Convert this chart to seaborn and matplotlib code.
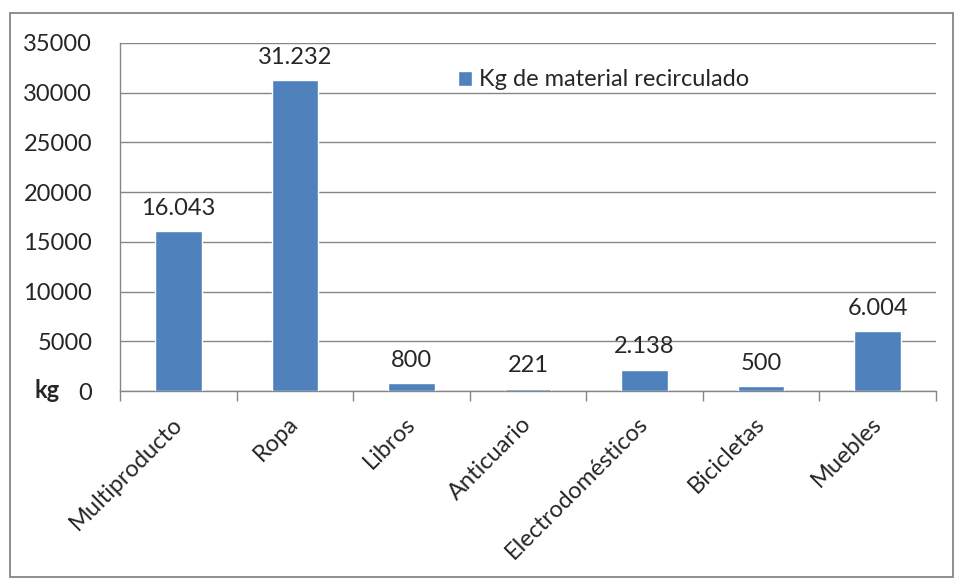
import matplotlib
matplotlib.use("Agg")
import matplotlib.pyplot as plt
import matplotlib.transforms as mtransforms
import seaborn as sns
import pandas as pd
from matplotlib.patches import Rectangle

# datos
categorias = ["Multiproducto", "Ropa", "Libros", "Anticuario",
              "Electrodomésticos", "Bicicletas", "Muebles"]
kg = [16043, 31232, 800, 221, 2138, 500, 6004]
etiquetas = ["16.043", "31.232", "800", "221", "2.138", "500", "6.004"]
serie = "Kg de material recirculado"
yticks = [0, 5000, 10000, 15000, 20000, 25000, 30000, 35000]

sns.set_style("white")
plt.rcParams['font.family'] = ['Lato', 'DejaVu Sans']
gris = "#868686"
fs = 17

df = pd.DataFrame({"categoria": categorias, "kg": kg, "serie": serie})

fig = plt.figure(figsize=(9.6, 5.83), dpi=100)
ax = fig.add_axes([0.125, 0.3293, 0.85, 0.597])

sns.barplot(data=df, x="categoria", y="kg", hue="serie", palette=["#4F81BD"],
            saturation=1, width=0.4, ax=ax, zorder=3)

ax.set_ylim(0, 35000)
ax.set_yticks(yticks)
ax.set_yticklabels([str(t) for t in yticks], fontsize=fs)
ax.set_xlim(-0.5, len(categorias) - 0.5)
ax.set_xticks([i - 0.5 for i in range(len(categorias) + 1)], minor=True)
ax.set_xticks(range(len(categorias)))
ax.set_xticklabels(categorias, rotation=45, ha="right", rotation_mode="anchor", fontsize=fs)
ax.tick_params(axis="x", which="major", length=0, pad=16)
ax.tick_params(axis="x", which="minor", length=7, color=gris, direction="out", width=1)
ax.tick_params(axis="y", length=8, color=gris, direction="out", width=1, pad=12)
ax.xaxis.set_tick_params(which="minor", bottom=True)
ax.set_xlabel("")
ax.set_ylabel("")

# desplazar un poco las etiquetas del eje x a la izquierda
desp = mtransforms.ScaledTranslation(-7 / 100, 0, fig.dpi_scale_trans)
for lbl in ax.get_xticklabels():
    lbl.set_transform(lbl.get_transform() + desp)

ax.grid(axis="y", color=gris, linewidth=1, zorder=0)
for s in ["top", "right"]:
    ax.spines[s].set_visible(False)
for s in ["left", "bottom"]:
    ax.spines[s].set_color(gris)
    ax.spines[s].set_linewidth(1)

for i, (v, t) in enumerate(zip(kg, etiquetas)):
    ax.annotate(t, (i, v), xytext=(0, 9), textcoords="offset points",
                ha="center", va="bottom", fontsize=fs)

leg = ax.legend(loc="upper left", bbox_to_anchor=(0.388, 0.985), frameon=False,
                fontsize=fs, handlelength=0.6, handleheight=0.6, handletextpad=0.3)

fig.text(35 / 960, 1 - 390 / 583, "kg", fontsize=fs, fontweight="bold",
         ha="left", va="center")

fig.patches.append(Rectangle((10 / 960, 6 / 583), 943 / 960, 564 / 583,
                             transform=fig.transFigure, fill=False,
                             edgecolor=gris, linewidth=1.3))

fig.savefig("out.png", dpi=100)
